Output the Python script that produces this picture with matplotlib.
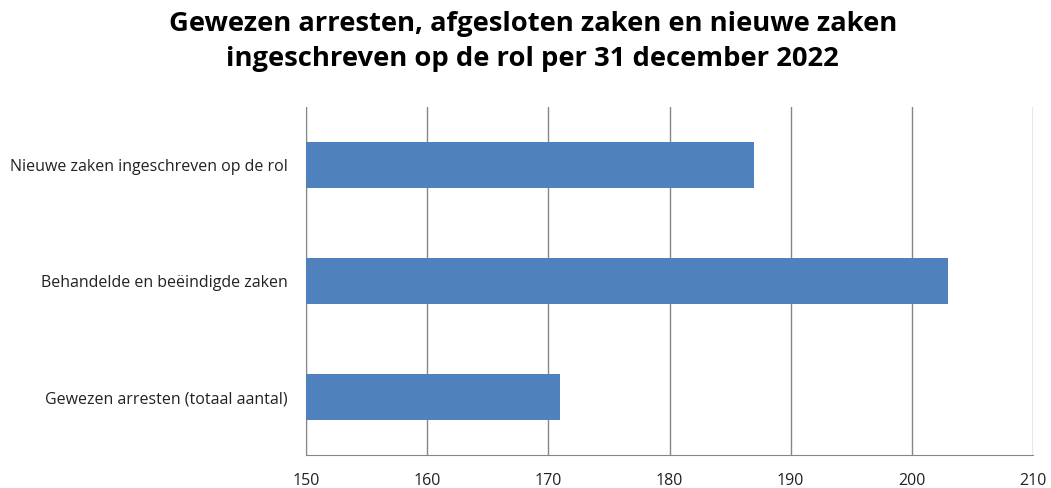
import matplotlib.pyplot as plt

categories = ['Gewezen arresten (totaal aantal)',
              'Behandelde en beëindigde zaken',
              'Nieuwe zaken ingeschreven op de rol']
values = [171, 203, 187]
xticks = [150, 160, 170, 180, 190, 200, 210]

plt.rcParams['font.family'] = ['Open Sans', 'DejaVu Sans']

fig = plt.figure(figsize=(10.51, 4.88), dpi=100)
ax = fig.add_axes([0.2912, 0.0676, 0.6917, 0.7131])

ax.barh(range(len(categories)), values, height=0.4, color='#4F81BD', zorder=3)
ax.set_xlim(150, 210)
ax.set_ylim(-0.5, len(categories) - 0.5)
ax.set_xticks(xticks)
ax.set_yticks(range(len(categories)))
ax.set_yticklabels(categories, fontsize=11.5, color='#222222')
ax.tick_params(axis='x', labelsize=11.5, length=0, pad=13, colors='#222222')
ax.tick_params(axis='y', length=0, pad=13)
ax.grid(axis='x', color='#868686', linewidth=1, zorder=0)

for side in ['top', 'right']:
    ax.spines[side].set_visible(False)
for side in ['left', 'bottom']:
    ax.spines[side].set_color('#868686')

fig.suptitle('Gewezen arresten, afgesloten zaken en nieuwe zaken\ningeschreven op de rol per 31 december 2022',
             x=0.507, y=0.977, fontsize=19.7, fontweight='bold', linespacing=1.42)

fig.savefig('out.png', dpi=100)
